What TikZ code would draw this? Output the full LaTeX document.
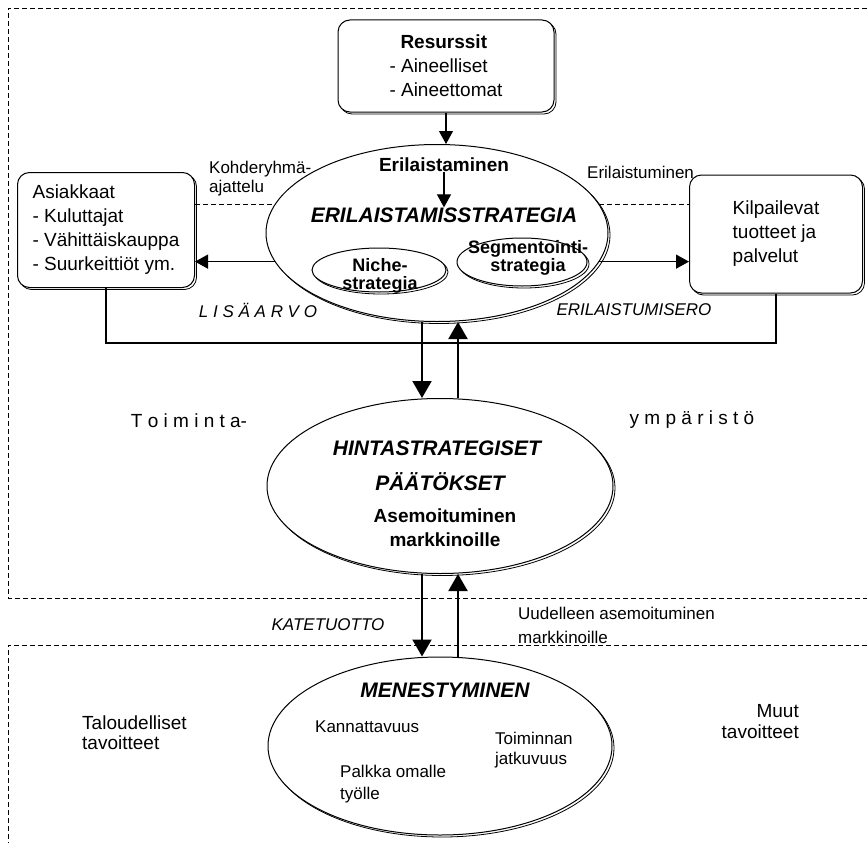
\documentclass[tikz,border=0pt]{standalone}
\usepackage{fontspec}
\setmainfont{Liberation Sans}
\usetikzlibrary{shapes.geometric,arrows.meta,shadows}

\begin{document}
\begin{tikzpicture}[x=1pt,y=-1pt,
  box/.style={draw,rounded corners=12pt,fill=white,align=left,inner sep=0pt,line width=1pt,
    general shadow={draw,fill=white,line width=0.8pt,shadow xshift=2pt,shadow yshift=-2pt},
    font=\fontsize{19}{24}\selectfont},
  oval/.style={draw,ellipse,fill=white,inner sep=0pt,line width=1pt,
    general shadow={draw,fill=white,line width=0.8pt,shadow xshift=2pt,shadow yshift=-2pt}},
  lbl/.style={font=\fontsize{17}{19}\selectfont,align=left,inner sep=0pt},
  txt/.style={font=\fontsize{19}{24}\selectfont,align=center,inner sep=0pt},
  small/.style={font=\fontsize{18}{18}\selectfont\bfseries,align=center,inner sep=0pt},
  head/.style={font=\fontsize{21}{25}\selectfont\bfseries\itshape,inner sep=0pt},
  arr/.style={line width=1.2pt,-{Triangle[length=13pt,width=14pt]}},
  bigarr/.style={line width=2pt,-{Triangle[length=17pt,width=19pt]}},
  frame/.style={line width=0.8pt,dash pattern=on 5pt off 3pt}]

\useasboundingbox (0,0) rectangle (867,843);

% dashed frames
\draw[frame] (867,8) -- (8,8) -- (8,598) -- (867,598);
\draw[frame] (867,645) -- (8,645) -- (8,843);

% upper part
\node[box,minimum width=216pt,minimum height=92pt] (res) at (446,66)
  {\hspace*{11pt}\textbf{Resurssit}\\- Aineelliset\\- Aineettomat};
\node[oval,minimum width=342pt,minimum height=177pt] (strategia) at (437,233) {};
\node[txt,font=\fontsize{19}{24}\selectfont\bfseries] (erilaist) at (444,165) {Erilaistaminen};
\node[head] (strattxt) at (444,215) {ERILAISTAMISSTRATEGIA};
\node[oval,minimum width=134pt,minimum height=44pt] (niche) at (379,270) {};
\node[small] (nichetxt) at (380,276) {Niche-\\strategia};
\node[oval,minimum width=130pt,minimum height=48pt] (segm) at (522,262) {};
\node[small] (segmtxt) at (528,258) {Segmentointi-\\strategia};

\node[box,minimum width=177pt,minimum height=115pt] (asiak) at (106,230)
  {Asiakkaat\\- Kuluttajat\\- Vähittäiskauppa\\- Suurkeittiöt ym.};
\node[box,minimum width=173pt,minimum height=118pt] (kilp) at (776,234)
  {Kilpailevat\\tuotteet ja\\palvelut};

\node[lbl,anchor=west] (kohde) at (209,179) {Kohderyhmä-\\ajattelu};
\node[lbl,anchor=west] (erilaistu) at (587,172) {Erilaistuminen};
\node[lbl,font=\fontsize{17}{19}\selectfont\itshape] (lisa) at (258,310) {L I S Ä A R V O};
\node[lbl,font=\fontsize{17}{19}\selectfont\itshape] (ero) at (634,310) {ERILAISTUMISERO};

\draw[frame] (asiak.east |- strategia.170) -- (strategia.170);
\draw[frame] (strategia.10) -- (strategia.10 -| kilp.west);
\draw[arr] (res.south) -- (res.south |- strategia.north);
\draw[arr] (erilaist.south) -- (strattxt.north);
\draw[arr] (strategia.190) -- (strategia.190 -| asiak.east);
\draw[arr] (strategia.350) -- (strategia.350 -| kilp.west);

\coordinate (base) at (0,343);
\draw[line width=1.3pt] (asiak.south) |- (kilp.south |- base) -- (kilp.south);

% middle
\node[txt] (toim) at (189,421) {T o i m i n t a-};
\node[txt] (ymp) at (692,420) {y m p ä r i s t ö};
\node[oval,minimum width=346pt,minimum height=175pt] (hinta) at (440,486) {};
\node[head] (hintatxt) at (437,448) {HINTASTRATEGISET};
\node[head] (paatxt) at (440,482) {PÄÄTÖKSET};
\node[txt,font=\fontsize{19}{24}\selectfont\bfseries] (asemtxt) at (445,528) {Asemoituminen\\markkinoille};

\coordinate (dn) at (422,0);
\coordinate (up) at (458,0);
\draw[bigarr] (strategia.south -| dn) -- (hinta.north -| dn);
\draw[bigarr] (hinta.north -| up) -- (strategia.south -| up);

% lower part
\node[lbl,font=\fontsize{17}{19}\selectfont\itshape] (kate) at (328,625) {KATETUOTTO};
\node[lbl,font=\fontsize{17}{24}\selectfont,anchor=west] (uud) at (518,625) {Uudelleen asemoituminen\\markkinoille};
\node[oval,minimum width=344pt,minimum height=178pt] (menes) at (440,746) {};
\node[head] (menestxt) at (445,690) {MENESTYMINEN};
\node[lbl,anchor=west] (kann) at (315,727) {Kannattavuus};
\node[lbl,font=\fontsize{17}{22}\selectfont,anchor=west] (palkka) at (340,784) {Palkka omalle\\työlle};
\node[lbl,font=\fontsize{17}{20}\selectfont,anchor=west] (jatk) at (495,750) {Toiminnan\\jatkuvuus};
\node[txt,font=\fontsize{19}{20}\selectfont,align=left,anchor=west] (talous) at (82,733) {Taloudelliset\\tavoitteet};
\node[txt,font=\fontsize{19}{21}\selectfont,align=right,anchor=east] (muut) at (799,722) {Muut\\tavoitteet};

\draw[bigarr] (hinta.south -| dn) -- (menes.north -| dn);
\draw[bigarr] (menes.north -| up) -- (hinta.south -| up);
\end{tikzpicture}
\end{document}
